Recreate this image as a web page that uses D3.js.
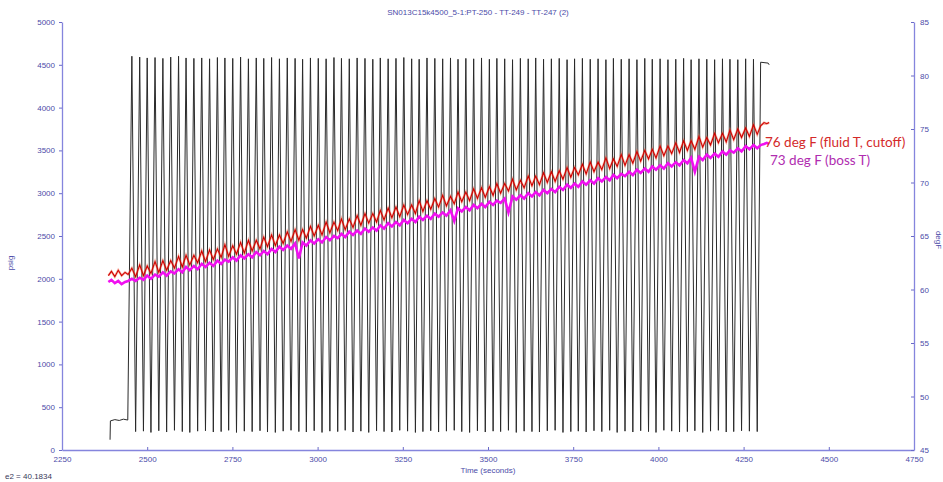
<!DOCTYPE html>
<html>
<head>
<meta charset="utf-8">
<script src="https://cdn.jsdelivr.net/npm/d3@7/dist/d3.min.js"></script>
<style>
  body { margin: 0; background: #fff; }
  svg { display: block; font-family: "Liberation Sans", Arial, sans-serif; }
</style>
</head>
<body>
<div id="chart"></div>
<script>
// axis ticks
const timeTicks = [2250, 2500, 2750, 3000, 3250, 3500, 3750, 4000, 4250, 4500, 4750];
const psiTicks = [0, 500, 1000, 1500, 2000, 2500, 3000, 3500, 4000, 4500, 5000];
const degTicks = [45, 50, 55, 60, 65, 70, 75, 80, 85];

// PT-250 pressure, before cycling starts
const preTimes = [2391, 2392, 2405, 2418, 2430, 2443];
const prePsi = [120, 340, 355, 345, 360, 350];

// pressure cycles: peak / trough of each stroke
const peakTimes = [
  2455, 2478, 2500, 2523, 2546, 2569, 2592, 2614, 2637, 2660,
  2683, 2706, 2728, 2751, 2774, 2797, 2820, 2842, 2865, 2888,
  2911, 2934, 2956, 2979, 3002, 3025, 3048, 3070, 3093, 3116,
  3139, 3162, 3184, 3207, 3230, 3253, 3276, 3298, 3321, 3344,
  3367, 3390, 3412, 3435, 3458, 3481, 3504, 3526, 3549, 3572,
  3595, 3618, 3640, 3663, 3686, 3709, 3732, 3754, 3777, 3800,
  3823, 3846, 3868, 3891, 3914, 3937, 3960, 3982, 4005, 4028,
  4051, 4074, 4096, 4119, 4142, 4165, 4188, 4210, 4233, 4256,
  4279
];
const peakPsi = [
  4600, 4590, 4580, 4585, 4575, 4590, 4600, 4580, 4575, 4580,
  4570, 4585, 4580, 4575, 4590, 4570, 4580, 4575, 4585, 4570,
  4580, 4575, 4565, 4580, 4575, 4570, 4585, 4575, 4570, 4580,
  4575, 4565, 4580, 4570, 4575, 4585, 4570, 4565, 4580, 4575,
  4570, 4580, 4565, 4575, 4570, 4580, 4565, 4575, 4570, 4560,
  4575, 4570, 4580, 4565, 4570, 4575, 4560, 4570, 4575, 4565,
  4570, 4560, 4575, 4565, 4570, 4560, 4575, 4565, 4570, 4560,
  4565, 4575, 4560, 4570, 4565, 4560, 4570, 4565, 4560, 4570,
  4565
];
const troughTimes = [
  2466, 2489, 2511, 2534, 2557, 2580, 2603, 2625, 2648, 2671,
  2694, 2717, 2739, 2762, 2785, 2808, 2831, 2853, 2876, 2899,
  2922, 2945, 2967, 2990, 3013, 3036, 3059, 3081, 3104, 3127,
  3150, 3173, 3195, 3218, 3241, 3264, 3287, 3309, 3332, 3355,
  3378, 3401, 3423, 3446, 3469, 3492, 3515, 3537, 3560, 3583,
  3606, 3629, 3651, 3674, 3697, 3720, 3743, 3765, 3788, 3811,
  3834, 3857, 3879, 3902, 3925, 3948, 3971, 3993, 4016, 4039,
  4062, 4085, 4107, 4130, 4153, 4176, 4199, 4221, 4244, 4267,
  4290
];
const troughPsi = [
  215, 220, 205, 225, 210, 230, 215, 205, 220, 225,
  210, 215, 230, 205, 220, 215, 225, 210, 205, 220,
  230, 215, 210, 225, 205, 220, 215, 230, 210, 220,
  205, 225, 215, 210, 230, 220, 205, 215, 225, 210,
  220, 230, 215, 205, 225, 210, 220, 215, 230, 205,
  220, 215, 210, 225, 230, 205, 215, 220, 210, 225,
  215, 230, 205, 220, 210, 225, 215, 205, 230, 220,
  210, 215, 225, 205, 220, 230, 210, 215, 225, 220,
  215
];

// pressure after the last cycle
const postTimes = [4300, 4322, 4325];
const postPsi = [4530, 4520, 4500];

// TT-249 fluid T and TT-247 boss T (degF)
const preTempTimes = [2386, 2395, 2405, 2415, 2425, 2435, 2444];
const preFluidT = [61.3, 61.7, 61.2, 61.8, 61.3, 61.6, 61.4];
const preBossT = [60.7, 60.9, 60.6, 60.8, 60.5, 60.7, 60.8];

const fluidTAtPeak = [
  62.0, 62.3, 62.2, 62.6, 62.7, 62.7, 63.1, 63.2, 63.2, 63.6,
  63.7, 63.8, 64.2, 64.1, 64.4, 64.6, 64.6, 64.9, 65.1, 65.1,
  65.4, 65.6, 65.6, 65.9, 66.0, 66.3, 66.3, 66.6, 66.6, 66.9,
  67.1, 67.1, 67.4, 67.6, 67.7, 67.9, 67.9, 68.3, 68.3, 68.5,
  68.8, 68.7, 69.1, 69.1, 69.4, 69.5, 69.6, 69.9, 69.9, 70.3,
  70.2, 70.6, 70.6, 70.9, 71.0, 71.1, 71.4, 71.4, 71.7, 71.9,
  71.9, 72.3, 72.2, 72.6, 72.6, 72.9, 73.0, 73.1, 73.4, 73.4,
  73.7, 73.9, 73.9, 74.3, 74.2, 74.6, 74.6, 74.9, 75.0, 75.1,
  75.4
];
const fluidTAtTrough = [
  61.2, 61.3, 61.5, 61.6, 61.8, 62.0, 62.1, 62.3, 62.5, 62.6,
  62.8, 63.0, 63.1, 63.3, 63.4, 63.6, 63.8, 64.0, 64.1, 64.3,
  64.5, 64.6, 64.8, 65.0, 65.1, 65.3, 65.5, 65.6, 65.8, 66.0,
  66.2, 66.3, 66.5, 66.7, 66.8, 67.0, 67.1, 67.3, 67.5, 67.7,
  67.8, 68.0, 68.2, 68.3, 68.5, 68.6, 68.8, 69.0, 69.2, 69.3,
  69.5, 69.7, 69.8, 70.0, 70.1, 70.3, 70.5, 70.7, 70.8, 71.0,
  71.2, 71.3, 71.5, 71.6, 71.8, 72.0, 72.2, 72.3, 72.5, 72.7,
  72.8, 73.0, 73.1, 73.3, 73.5, 73.7, 73.8, 74.0, 74.2, 74.3,
  74.5
];
const bossTAtPeak = [
  61.0, 61.1, 61.3, 61.4, 61.6, 61.7, 61.9, 62.1, 62.2, 62.4,
  62.5, 62.7, 62.8, 63.0, 63.2, 63.3, 63.5, 63.6, 63.8, 64.0,
  64.1, 64.3, 64.4, 64.6, 64.7, 64.9, 65.0, 65.2, 65.4, 65.5,
  65.7, 65.8, 66.0, 66.2, 66.3, 66.5, 66.6, 66.8, 66.9, 67.1,
  67.2, 67.4, 67.6, 67.7, 67.9, 68.0, 68.2, 68.3, 68.5, 68.7,
  68.8, 69.0, 69.1, 69.3, 69.4, 69.6, 69.8, 69.9, 70.1, 70.2,
  70.4, 70.5, 70.7, 70.8, 71.0, 71.2, 71.3, 71.5, 71.6, 71.8,
  71.9, 72.1, 72.3, 72.4, 72.6, 72.7, 72.9, 73.0, 73.2, 73.4,
  73.5
];
const bossTAtTrough = [
  60.8, 60.9, 61.0, 61.2, 61.3, 61.5, 61.6, 61.8, 61.9, 62.1,
  62.2, 62.4, 62.6, 62.7, 62.9, 63.0, 63.2, 63.3, 63.5, 63.7,
  63.8, 62.9, 64.1, 64.3, 64.4, 64.6, 64.8, 64.9, 65.1, 65.2,
  65.4, 65.5, 65.7, 65.9, 66.0, 66.2, 66.3, 66.5, 66.6, 66.8,
  66.9, 66.4, 67.3, 67.4, 67.6, 67.7, 67.9, 68.1, 67.2, 68.4,
  68.5, 68.7, 68.8, 69.0, 69.1, 69.3, 69.5, 69.6, 69.8, 69.9,
  70.1, 70.2, 70.4, 70.6, 70.7, 70.9, 71.0, 71.2, 71.3, 71.5,
  71.6, 71.8, 71.0, 72.1, 72.3, 72.4, 72.6, 72.8, 72.9, 73.1,
  73.2
];
const postTempTimes = [4300, 4310, 4318, 4325];
const postFluidT = [75.3, 75.6, 75.5, 75.6];
const postBossT = [73.5, 73.6, 73.7, 73.6];

const titleText = "SN013C15k4500_5-1:PT-250 - TT-249 - TT-247 (2)";

class CycleChart {
  constructor() {
    this.width = 943;
    this.height = 482;
    this.svg = d3.select("#chart").append("svg")
      .attr("width", this.width)
      .attr("height", this.height);
    this.x = d3.scaleLinear().domain([2250, 4750]).range([62, 914]);
    this.yPsi = d3.scaleLinear().domain([0, 5000]).range([450, 22]);
    this.yDeg = d3.scaleLinear().domain([45, 85]).range([450, 22]);
    this.drawAxes();
    this.drawTraces();
    this.drawLabels();
  }

  // interleave the per-cycle peak/trough samples into one series
  cycleSeries(peakVals, troughVals) {
    const out = [];
    peakTimes.forEach((t, i) => {
      out.push([t, peakVals[i]]);
      out.push([troughTimes[i], troughVals[i]]);
    });
    return out;
  }

  withEnds(preT, preV, mid, postT, postV) {
    return preT.map((t, i) => [t, preV[i]])
      .concat(mid)
      .concat(postT.map((t, i) => [t, postV[i]]));
  }

  styleAxis(g) {
    g.select(".domain").attr("stroke", "#8585dd").attr("stroke-width", 1.3);
    g.selectAll(".tick line").attr("stroke", "#6a6ac8");
    g.selectAll(".tick text")
      .attr("fill", "#4b4ba8")
      .style("font-size", "8px");
  }

  drawAxes() {
    this.svg.append("g")
      .attr("transform", "translate(0,450)")
      .call(d3.axisBottom(this.x).tickValues(timeTicks).tickFormat(d3.format("d"))
        .tickSizeInner(-3).tickSizeOuter(0).tickPadding(6))
      .call(g => this.styleAxis(g));

    this.svg.append("g")
      .attr("transform", "translate(62,0)")
      .call(d3.axisLeft(this.yPsi).tickValues(psiTicks).tickFormat(d3.format("d"))
        .tickSizeInner(3).tickSizeOuter(0).tickPadding(4))
      .call(g => this.styleAxis(g));

    this.svg.append("g")
      .attr("transform", "translate(914,0)")
      .call(d3.axisRight(this.yDeg).tickValues(degTicks).tickFormat(d3.format("d"))
        .tickSizeInner(-3).tickSizeOuter(0).tickPadding(6))
      .call(g => this.styleAxis(g));
  }

  drawTraces() {
    const psiLine = d3.line().x(d => this.x(d[0])).y(d => this.yPsi(d[1]));
    const degLine = d3.line().x(d => this.x(d[0])).y(d => this.yDeg(d[1]));

    const psiData = this.withEnds(preTimes, prePsi,
      this.cycleSeries(peakPsi, troughPsi), postTimes, postPsi);
    const fluidData = this.withEnds(preTempTimes, preFluidT,
      this.cycleSeries(fluidTAtPeak, fluidTAtTrough), postTempTimes, postFluidT);
    const bossData = this.withEnds(preTempTimes, preBossT,
      this.cycleSeries(bossTAtPeak, bossTAtTrough), postTempTimes, postBossT);

    this.svg.append("path")
      .attr("d", psiLine(psiData))
      .attr("fill", "none")
      .attr("stroke", "#2a2a2a")
      .attr("stroke-width", 1);

    this.svg.append("path")
      .attr("d", degLine(fluidData))
      .attr("fill", "none")
      .attr("stroke", "#f06040")
      .attr("stroke-opacity", 0.45)
      .attr("stroke-width", 2.4);
    this.svg.append("path")
      .attr("d", degLine(fluidData))
      .attr("fill", "none")
      .attr("stroke", "#d00000")
      .attr("stroke-width", 1.1);

    this.svg.append("path")
      .attr("d", degLine(bossData))
      .attr("fill", "none")
      .attr("stroke", "#f010f0")
      .attr("stroke-width", 2.6);
  }

  drawLabels() {
    const blue = "#4b4ba8";
    this.svg.append("text")
      .attr("x", 478).attr("y", 15)
      .attr("text-anchor", "middle")
      .attr("fill", blue)
      .style("font-size", "8px")
      .text(titleText);

    this.svg.append("text")
      .attr("transform", "translate(13,263) rotate(-90)")
      .attr("text-anchor", "middle")
      .attr("fill", blue)
      .style("font-size", "8px")
      .text("psig");

    this.svg.append("text")
      .attr("transform", "translate(936,240) rotate(90)")
      .attr("text-anchor", "middle")
      .attr("fill", blue)
      .style("font-size", "8px")
      .text("degF");

    this.svg.append("text")
      .attr("x", 488).attr("y", 473)
      .attr("text-anchor", "middle")
      .attr("fill", blue)
      .style("font-size", "8px")
      .text("Time (seconds)");

    this.svg.append("text")
      .attr("x", 5).attr("y", 479)
      .attr("fill", "#3a3a5a")
      .style("font-size", "8px")
      .text("e2 = 40.1834");

    this.svg.append("text")
      .attr("x", 765).attr("y", 147)
      .attr("fill", "#d42a2a")
      .style("font-family", "Lato, 'Open Sans', sans-serif")
      .style("font-size", "13.5px")
      .text("76 deg F (fluid T, cutoff)");

    this.svg.append("text")
      .attr("x", 770).attr("y", 165)
      .attr("fill", "#b02cb0")
      .style("font-family", "Lato, 'Open Sans', sans-serif")
      .style("font-size", "13.5px")
      .text("73 deg F (boss T)");
  }
}

const chart = new CycleChart();
</script>
</body>
</html>
